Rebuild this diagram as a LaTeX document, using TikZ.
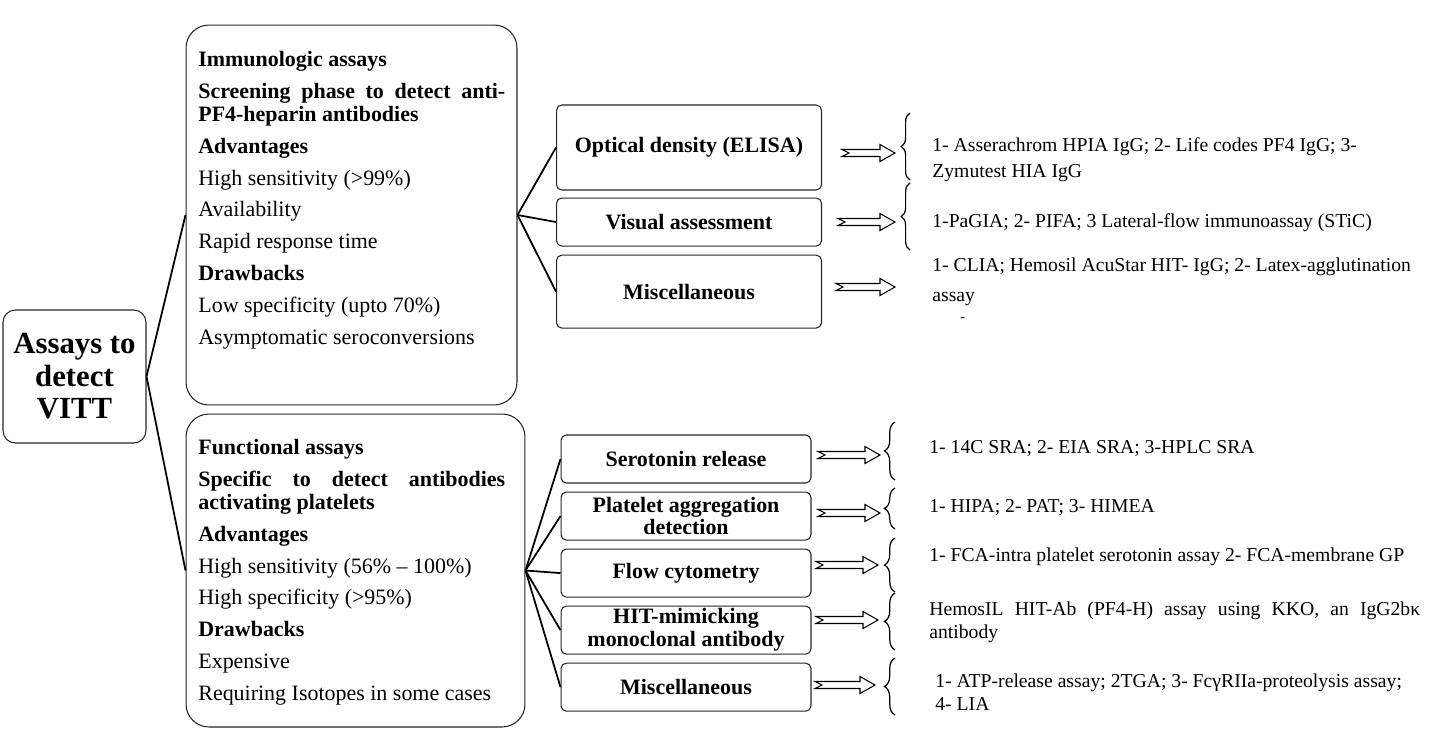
\documentclass[tikz,border=0pt]{standalone}
\usepackage{fontspec}
\setmainfont{Liberation Serif}
\usetikzlibrary{positioning,decorations.pathreplacing}
\newcommand{\hollowarrow}[3]{\draw[fill = white, line width = 0.6pt]
  (#1,#3-3.5) -- (#2-15,#3-3.5) -- (#2-15,#3-8.5) -- (#2,#3)
  -- (#2-15,#3+8.5) -- (#2-15,#3+3.5) -- (#1,#3+3.5) -- (#1+7,#3) -- cycle;}

\begin{document}
\begin{tikzpicture}[x = 0.02cm, y = -0.02cm,
    every node/.style = {inner sep = 0pt},
    bigbox/.style = {draw = black!85, line width = 0.6pt, rounded corners = 13pt},
    smallbox/.style = {draw = black!85, line width = 0.6pt, rounded corners = 3pt,
      align = center, font = \fontsize{12.5}{13}\selectfont\bfseries},
    branch/.style = {line width = 1pt},
    curly/.style = {line width = 0.7pt, decorate, decoration = {brace, amplitude = #1}},
    kits/.style = {anchor = west, align = left, font = \fontsize{11.2}{13}\selectfont},
  ]
  \useasboundingbox (0,0) rectangle (1430,738);

  % root and the two groups
  \node [draw = black!85, line width = 0.6pt, rounded corners = 7pt,
    minimum width = 2.86cm, minimum height = 2.66cm, align = center,
    font = \fontsize{17.5}{18.5}\selectfont\bfseries] (VITT) at (74.5,376.5)
    {Assays to\\detect\\VITT};
  \node [bigbox, minimum width = 6.62cm, minimum height = 7.6cm] (Immuno) at (351.5,215) {};
  \node [bigbox, minimum width = 6.78cm, minimum height = 6.26cm] (Functional) at (355.5,570.5) {};

  \node [anchor = north west, align = left, font = \fontsize{12.5}{13.1}\selectfont]
    (ImmunoText) at (198,51) {\textbf{Immunologic assays}\\[5pt]
    \textbf{\makebox[6.14cm][s]{Screening phase to detect anti-}}\\
    \textbf{PF4-heparin antibodies}\\[5pt]
    \textbf{Advantages}\\[5pt]
    High sensitivity (>99\%)\\[5pt]
    Availability\\[5pt]
    Rapid response time\\[5pt]
    \textbf{Drawbacks}\\[5pt]
    Low specificity (upto 70\%)\\[5pt]
    Asymptomatic seroconversions};
  \node [anchor = north west, align = left, font = \fontsize{12.5}{13.1}\selectfont]
    (FunctionalText) at (198,439) {\textbf{Functional assays}\\[5pt]
    \textbf{\makebox[6.14cm][s]{Specific to detect antibodies}}\\
    \textbf{activating platelets}\\[5pt]
    \textbf{Advantages}\\[5pt]
    High sensitivity (56\% -- 100\%)\\[5pt]
    High specificity (>95\%)\\[5pt]
    \textbf{Drawbacks}\\[5pt]
    Expensive\\[5pt]
    Requiring Isotopes in some cases};

  % immunologic assays
  \node [smallbox, minimum width = 5.3cm, minimum height = 1.7cm] (ELISA) at (689,147.5)
    {Optical density (ELISA)};
  \node [smallbox, minimum width = 5.3cm, minimum height = 0.96cm, below = 0.14cm of ELISA]
    (Visual) {Visual assessment};
  \node [smallbox, minimum width = 5.3cm, minimum height = 1.46cm, below = 0.16cm of Visual]
    (MiscI) {Miscellaneous};

  % functional assays
  \node [smallbox, minimum width = 5cm, minimum height = 0.96cm] (Serotonin) at (686,459)
    {Serotonin release};
  \node [smallbox, minimum width = 5cm, minimum height = 0.96cm, below = 0.16cm of Serotonin]
    (Aggregation) {Platelet aggregation\\detection};
  \node [smallbox, minimum width = 5cm, minimum height = 0.96cm, below = 0.16cm of Aggregation]
    (Flow) {Flow cytometry};
  \node [smallbox, minimum width = 5cm, minimum height = 0.96cm, below = 0.16cm of Flow]
    (HITmab) {HIT-mimicking\\monoclonal antibody};
  \node [smallbox, minimum width = 5cm, minimum height = 0.96cm, below = 0.16cm of HITmab]
    (MiscF) {Miscellaneous};

  \draw [branch] (VITT.east) -- (Immuno.west);
  \draw [branch] (VITT.east) -- (Functional.west);
  \foreach \b in {ELISA, Visual, MiscI}
    \draw [branch] (Immuno.east) -- (\b.west);
  \foreach \b in {Serotonin, Aggregation, Flow, HITmab, MiscF}
    \draw [branch] (Functional.east) -- (\b.west);

  \foreach \xa/\xb/\y in {842/895/153, 838/895/222, 836/895/287,
      818/880/455, 818/880/513, 816/878/565, 816/878/620, 815/875/685}
    \hollowarrow{\xa}{\xb}{\y};

  \foreach \a/\b in {113/180, 183/250}
    \draw [curly = 5pt] (910,\b) -- (910,\a);
  \foreach \a/\b in {422/480, 488/529, 538/592, 593/650, 658/715}
    \draw [curly = 6pt] (895,\b) -- (895,\a);

  % kits and methods
  \node [kits] (ELISAkits) at (932,160)
    {1- Asserachrom HPIA IgG; 2- Life codes PF4 IgG; 3-\\[2pt]Zymutest HIA IgG};
  \node [kits] (Visualkits) at (932,223)
    {1-PaGIA; 2- PIFA; 3 Lateral-flow immunoassay (STiC)};
  \node [kits] (MiscIkits) at (932,282)
    {1- CLIA; Hemosil AcuStar HIT- IgG; 2- Latex-agglutination\\[4pt]assay};
  \node [kits, font = \fontsize{8}{9}\selectfont] (MiscIdash) at (960,320) {-};
  \node [kits] (Serotoninkits) at (929,448) {1- 14C SRA; 2- EIA SRA; 3-HPLC SRA};
  \node [kits] (Aggregationkits) at (929,507) {1- HIPA; 2- PAT; 3- HIMEA};
  \node [kits] (Flowkits) at (929,557)
    {1- FCA-intra platelet serotonin assay 2- FCA-membrane GP};
  \node [kits] (HITmabkits) at (929,622)
    {\makebox[9.82cm][s]{HemosIL HIT-Ab (PF4-H) assay using KKO, an IgG2bκ}\\antibody};
  \node [kits] (MiscFkits) at (935,692)
    {1- ATP-release assay; 2TGA; 3- FcγRIIa-proteolysis assay;\\4- LIA};
\end{tikzpicture}
\end{document}
